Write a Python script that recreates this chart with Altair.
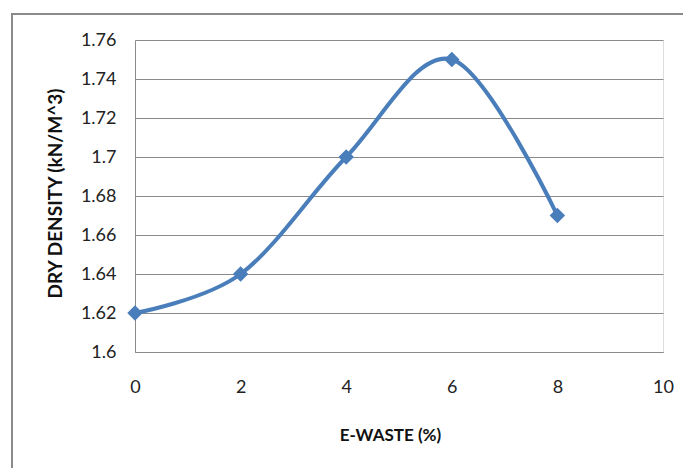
import altair as alt
import pandas as pd

ewaste = [0, 2, 4, 6, 8]
dry_density = [1.62, 1.64, 1.70, 1.75, 1.67]
y_ticks = [1.6, 1.62, 1.64, 1.66, 1.68, 1.7, 1.72, 1.74, 1.76]
x_ticks = [0, 2, 4, 6, 8, 10]

df = pd.DataFrame({"x": ewaste, "y": dry_density})

W, H = 528, 312
FONT = "Lato"
COLOR = "#4A7EBB"

x_enc = alt.X("x:Q", scale=alt.Scale(domain=[0, 10], nice=False),
              axis=alt.Axis(values=x_ticks, title="E-WASTE (%)", grid=False, ticks=False,
                            domainColor="#8a8a8a", domainWidth=1,
                            labelFont=FONT, labelFontSize=18, labelColor="#222",
                            labelPadding=26, labelFlush=False, labelOverlap=False,
                            titleFont=FONT, titleFontSize=17, titleFontWeight="bold",
                            titleColor="#111", titleX=255, titleY=83,
                            titleBaseline="middle", titleAlign="center"))
y_enc = alt.Y("y:Q", scale=alt.Scale(domain=[1.6, 1.76], nice=False, zero=False),
              axis=alt.Axis(values=y_ticks, title="DRY DENSITY (kN/M^3)", grid=True,
                            gridColor="#8a8a8a", gridWidth=1, ticks=False,
                            domainColor="#8a8a8a", domainWidth=1,
                            labelFont=FONT, labelFontSize=18, labelColor="#222",
                            labelPadding=19, format="~g", labelOverlap=False,
                            tickCount=len(y_ticks),
                            titleFont=FONT, titleFontSize=19, titleFontWeight="bold",
                            titleColor="#111", titleX=-80, titleY=153,
                            titleBaseline="middle", titleAlign="center"))

border = alt.Chart(pd.DataFrame({"a": [0]})).mark_rect(
    fill=None, stroke="#8a8a8a", strokeWidth=2, clip=False
).encode(x=alt.value(-123), x2=alt.value(552), y=alt.value(-26), y2=alt.value(440))

base = alt.Chart(df).encode(x=x_enc, y=y_enc)
line = base.mark_line(interpolate="cardinal", color=COLOR, strokeWidth=4)
pts = base.mark_point(shape="diamond", filled=True, size=240, color=COLOR, opacity=1)

chart = alt.layer(border, line, pts).properties(
    width=W, height=H,
    autosize=alt.AutoSizeParams(type="none"),
    padding={"left": 135, "top": 40, "right": 20, "bottom": 116},
).configure_view(stroke=None).configure(background="white")

chart.save("out.html", embed_options={"renderer": "svg", "actions": False})
